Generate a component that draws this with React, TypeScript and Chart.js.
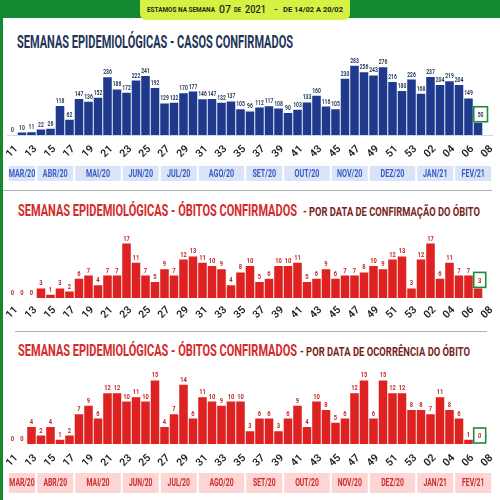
import React, { useEffect, useLayoutEffect, useRef } from 'react';
import { Chart, registerables } from 'chart.js';

Chart.register(...registerables);

// ---------- DATA ----------
const weeks = [
  '11', '12', '13', '14', '15', '16', '17', '18', '19', '20',
  '21', '22', '23', '24', '25', '26', '27', '28', '29', '30',
  '31', '32', '33', '34', '35', '36', '37', '38', '39', '40',
  '41', '42', '43', '44', '45', '46', '47', '48', '49', '50',
  '51', '52', '53', '01', '02', '03', '04', '05', '06', '07', '08',
];

const casosConfirmados = [
  0, 10, 11, 22, 26, 118, 62, 147, 136, 152,
  236, 186, 172, 222, 241, 192, 129, 132, 170, 177,
  146, 147, 132, 137, 105, 96, 112, 117, 108, 90,
  103, 133, 160, 116, 105, 230, 283, 256, 243, 276,
  216, 180, 226, 168, 237, 204, 219, 204, 149, 50, null,
];

const obitosPorConfirmacao = [
  0, 0, 0, 3, 1, 3, 2, 6, 7, 4,
  7, 7, 17, 11, 7, 5, 9, 7, 12, 13,
  11, 10, 9, 4, 8, 10, 5, 6, 10, 10,
  11, 5, 6, 9, 6, 7, 7, 8, 10, 9,
  12, 13, 3, 12, 17, 6, 11, 7, 7, 3, null,
];

const obitosPorOcorrencia = [
  0, 0, 4, 2, 4, 1, 2, 7, 9, 6,
  12, 12, 10, 11, 10, 15, 4, 7, 14, 6,
  11, 10, 9, 10, 10, 3, 6, 6, 3, 6,
  9, 4, 10, 8, 5, 6, 12, 15, 6, 15,
  12, 12, 8, 8, 7, 11, 8, 6, 1, 0, null,
];

const monthLabels = ['MAR/20', 'ABR/20', 'MAI/20', 'JUN/20', 'JUL/20', 'AGO/20', 'SET/20', 'OUT/20', 'NOV/20', 'DEZ/20', 'JAN/21', 'FEV/21'];
const monthWeekCounts = [3, 4, 5, 4, 4, 5, 4, 5, 4, 5, 4, 4];

const currentWeekIndex = 49; // semana 07/2021

// ---------- HELPERS ----------
type FitProps = {
  text: string; left: number; cy: number; width: number; size: number; color: string; weight?: number;
};

function FitText({ text, left, cy, width, size, color, weight = 700 }: FitProps) {
  const ref = useRef<HTMLSpanElement>(null);
  useLayoutEffect(() => {
    const el = ref.current;
    if (!el) return;
    el.style.transform = 'none';
    const w = el.getBoundingClientRect().width;
    if (w > 0) el.style.transform = `scaleX(${width / w})`;
  });
  return (
    <span
      ref={ref}
      style={{
        position: 'absolute',
        left,
        top: cy - size * 0.49,
        fontSize: size,
        lineHeight: 1,
        fontFamily: 'Roboto, sans-serif',
        fontWeight: weight,
        color,
        whiteSpace: 'nowrap',
        transformOrigin: '0 0',
      }}
    >
      {text}
    </span>
  );
}

type Bands = { fill: string; color: string; offset: number; height: number; fontSize: number };

type PanelProps = {
  top: number;
  height: number;
  values: (number | null)[];
  barColor: string;
  labelColor: string;
  labelSize: number;
  yMax: number;
  padTop: number;
  padBottom: number;
  axisHeight: number;
  tickPadding: number;
  baseline?: string;
  bands?: Bands;
};

function BarPanel(p: PanelProps) {
  const ref = useRef<HTMLCanvasElement>(null);
  useEffect(() => {
    const canvas = ref.current;
    if (!canvas) return;

    const valueLabels = {
      id: 'valueLabels',
      afterDatasetsDraw(chart: any) {
        const ctx = chart.ctx as CanvasRenderingContext2D;
        const meta = chart.getDatasetMeta(0);
        const sx = 0.72;
        meta.data.forEach((bar: any, i: number) => {
          const v = p.values[i];
          if (v === null || v === undefined) return;
          const text = String(v);
          ctx.save();
          ctx.font = `bold ${p.labelSize}px Roboto, sans-serif`;
          const w = ctx.measureText(text).width * sx;
          if (i === currentWeekIndex) {
            const bw = Math.max(w + 8, 12);
            const bh = 15;
            const left = bar.x - bar.width / 2;
            const bottom = bar.y - 1;
            ctx.fillStyle = '#ffffff';
            ctx.fillRect(left, bottom - bh, bw, bh);
            ctx.strokeStyle = '#1f8a3c';
            ctx.lineWidth = 1.6;
            ctx.strokeRect(left, bottom - bh, bw, bh);
            ctx.translate(left + bw / 2, bottom - bh / 2 + p.labelSize * 0.36);
          } else {
            ctx.translate(bar.x, bar.y - 3);
          }
          ctx.scale(sx, 1);
          ctx.fillStyle = p.labelColor;
          ctx.textAlign = 'center';
          ctx.textBaseline = 'alphabetic';
          ctx.fillText(text, 0, 0);
          ctx.restore();
        });
      },
    };

    const monthBands = {
      id: 'monthBands',
      afterDraw(chart: any) {
        const b = p.bands;
        if (!b) return;
        const ctx = chart.ctx as CanvasRenderingContext2D;
        const xs = chart.scales.x;
        const half = (xs.getPixelForValue(1) - xs.getPixelForValue(0)) / 2;
        const y0 = chart.chartArea.bottom + b.offset;
        let idx = 0;
        monthLabels.forEach((lab, k) => {
          const n = monthWeekCounts[k];
          const x0 = xs.getPixelForValue(idx) - half;
          const x1 = xs.getPixelForValue(idx + n - 1) + half;
          idx += n;
          ctx.save();
          ctx.fillStyle = b.fill;
          ctx.fillRect(x0 + 1, y0, x1 - x0 - 2, b.height);
          ctx.font = `bold ${b.fontSize}px Roboto, sans-serif`;
          ctx.fillStyle = b.color;
          ctx.textAlign = 'center';
          ctx.textBaseline = 'middle';
          ctx.translate((x0 + x1) / 2, y0 + b.height / 2 + 0.5);
          ctx.scale(0.68, 1);
          ctx.fillText(lab, 0, 0);
          ctx.restore();
        });
      },
    };

    const chart = new Chart(canvas, {
      type: 'bar',
      data: {
        labels: weeks,
        datasets: [
          {
            data: p.values as any,
            backgroundColor: p.barColor,
            borderWidth: 0,
            barPercentage: 0.9,
            categoryPercentage: 1,
          },
        ],
      },
      options: {
        animation: false,
        responsive: false,
        devicePixelRatio: 1,
        layout: { padding: { top: p.padTop, bottom: p.padBottom, left: 7.75, right: 7.75 } },
        plugins: { legend: { display: false }, tooltip: { enabled: false }, title: { display: false } },
        scales: {
          y: { display: false, min: 0, max: p.yMax },
          x: {
            grid: { display: false, drawTicks: false },
            border: { display: !!p.baseline, color: p.baseline || 'transparent', width: 1 },
            ticks: {
              autoSkip: false,
              minRotation: 45,
              maxRotation: 45,
              padding: p.tickPadding,
              labelOffset: 4,
              color: '#1c1c1c',
              font: { family: 'Roboto, sans-serif', size: 10.5, weight: 600 as any },
              callback: (_v: any, i: number) => (i % 2 === 0 ? weeks[i] : ''),
            },
            afterFit: (s: any) => {
              s.height = p.axisHeight;
              s.paddingLeft = 0;
              s.paddingRight = 0;
            },
          },
        },
      },
      plugins: [valueLabels, monthBands],
    });
    return () => chart.destroy();
  }, []);

  return (
    <div style={{ position: 'absolute', left: 0, top: p.top, width: 500, height: p.height }}>
      <canvas ref={ref} width={500} height={p.height} style={{ display: 'block' }} />
    </div>
  );
}

export default function App() {
  const green = '#14892f';
  const navy = '#1e3557';
  const red = '#d42a2a';
  const maroon = '#7a1f1f';
  return (
    <div style={{ position: 'absolute', left: 0, top: 0, width: 500, height: 500, background: green, overflow: 'hidden' }}>
      <div style={{ position: 'absolute', left: 3, top: 18, right: 0, bottom: 0, background: '#ffffff' }} />

      {/* header pill */}
      <div style={{ position: 'absolute', left: 140, top: 0, width: 210, height: 20, background: '#d6f044', borderRadius: '0 0 6px 6px' }} />
      <FitText text="ESTAMOS NA SEMANA" left={147} cy={10} width={68} size={8} color="#1b2a1d" />
      <FitText text="07" left={219} cy={9.5} width={12} size={11} color="#1b2a1d" weight={500} />
      <FitText text="DE" left={234} cy={10} width={7} size={8} color="#1b2a1d" />
      <FitText text="2021" left={245} cy={9.5} width={21} size={11} color="#1b2a1d" weight={500} />
      <FitText text="-" left={274} cy={10} width={4} size={8} color="#1b2a1d" />
      <FitText text="DE 14/02 A 20/02" left={283} cy={10} width={60} size={8} color="#1b2a1d" />

      {/* section 1 */}
      <FitText text="SEMANAS EPIDEMIOLÓGICAS - CASOS CONFIRMADOS" left={17} cy={41.7} width={276} size={18} color={navy} />
      <BarPanel
        top={55}
        height={130}
        values={casosConfirmados}
        barColor="#1f3a8c"
        labelColor={navy}
        labelSize={7}
        yMax={306}
        padTop={5}
        padBottom={20}
        axisHeight={30}
        tickPadding={8}
        baseline="#cdd8f0"
        bands={{ fill: '#dae4f7', color: '#3b5cc6', offset: 31, height: 15, fontSize: 10.5 }}
      />

      <div style={{ position: 'absolute', left: 3, top: 190, width: 489, height: 1, background: '#a9b6ac' }} />

      {/* section 2 */}
      <FitText text="SEMANAS EPIDEMIOLÓGICAS - ÓBITOS CONFIRMADOS" left={18} cy={211} width={279} size={16.5} color={red} />
      <FitText text="- POR DATA DE CONFIRMAÇÃO DO ÓBITO" left={303} cy={211.3} width={177} size={13} color={maroon} />
      <BarPanel
        top={222}
        height={101}
        values={obitosPorConfirmacao}
        barColor="#de2121"
        labelColor="#c42626"
        labelSize={8}
        yMax={22.5}
        padTop={4}
        padBottom={0}
        axisHeight={25}
        tickPadding={6}
      />

      <div style={{ position: 'absolute', left: 15, top: 331, width: 472, height: 1, background: '#a9b6ac' }} />

      {/* section 3 */}
      <FitText text="SEMANAS EPIDEMIOLÓGICAS - ÓBITOS CONFIRMADOS" left={18} cy={351} width={279} size={16.5} color={red} />
      <FitText text="- POR DATA DE OCORRÊNCIA DO ÓBITO" left={300} cy={351.3} width={170} size={13} color={maroon} />
      <BarPanel
        top={362}
        height={135}
        values={obitosPorOcorrencia}
        barColor="#de2121"
        labelColor="#c42626"
        labelSize={8}
        yMax={18.4}
        padTop={4}
        padBottom={24}
        axisHeight={29}
        tickPadding={8}
        bands={{ fill: '#fdd5d5', color: '#cf2a2a', offset: 29, height: 20, fontSize: 10 }}
      />
    </div>
  );
}
